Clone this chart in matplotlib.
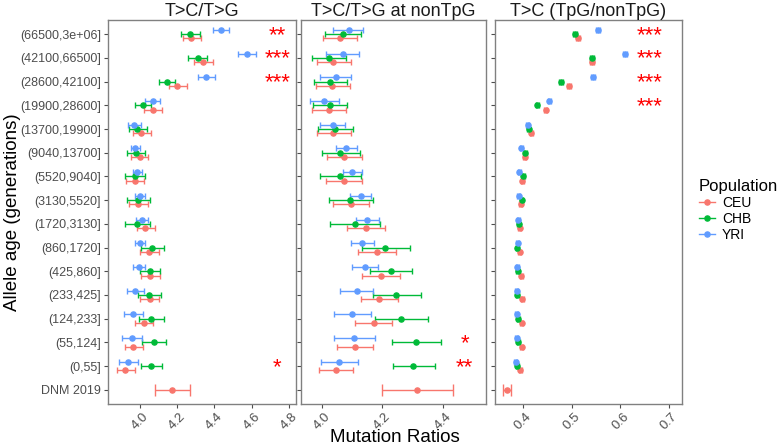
import numpy as np
import matplotlib
matplotlib.use('Agg')
import matplotlib.pyplot as plt
from matplotlib.lines import Line2D

plt.rcParams['font.family'] = ['Liberation Sans', 'DejaVu Sans']

ages = ['(66500,3e+06]', '(42100,66500]', '(28600,42100]', '(19900,28600]',
        '(13700,19900]', '(9040,13700]', '(5520,9040]', '(3130,5520]',
        '(1720,3130]', '(860,1720]', '(425,860]', '(233,425]', '(124,233]',
        '(55,124]', '(0,55]']
dnm_label = 'DNM 2019'
pops = ['CEU', 'CHB', 'YRI']
colors = {'CEU': '#F8766D', 'CHB': '#00BA38', 'YRI': '#619CFF'}
titles = ['T>C/T>G', 'T>C/T>G at nonTpG', 'T>C (TpG/nonTpG)']

# panel 1: T>C/T>G
p1_ceu = [4.276, 4.336, 4.200, 4.071, 4.007, 3.998, 3.973, 3.991, 4.030, 4.050, 4.055, 4.053, 4.020, 3.964, 3.922]
p1_ceu_lo = [4.230, 4.290, 4.156, 4.023, 3.961, 3.954, 3.927, 3.941, 3.982, 4.002, 4.007, 4.002, 3.972, 3.918, 3.876]
p1_ceu_hi = [4.330, 4.390, 4.250, 4.119, 4.057, 4.046, 4.021, 4.041, 4.082, 4.101, 4.108, 4.103, 4.069, 4.014, 3.972]
p1_chb = [4.270, 4.309, 4.148, 4.018, 3.986, 3.980, 3.973, 3.991, 3.986, 4.066, 4.053, 4.050, 4.062, 4.076, 4.062]
p1_chb_lo = [4.220, 4.260, 4.100, 3.973, 3.940, 3.929, 3.922, 3.932, 3.922, 4.004, 3.998, 3.988, 3.996, 4.012, 4.007]
p1_chb_hi = [4.320, 4.360, 4.190, 4.062, 4.036, 4.030, 4.030, 4.053, 4.053, 4.130, 4.108, 4.114, 4.130, 4.140, 4.119]
p1_yri = [4.437, 4.573, 4.356, 4.068, 3.970, 3.973, 3.984, 3.998, 4.012, 3.998, 3.995, 3.975, 3.964, 3.957, 3.938]
p1_yri_lo = [4.390, 4.524, 4.310, 4.028, 3.938, 3.950, 3.961, 3.972, 3.980, 3.973, 3.964, 3.932, 3.916, 3.906, 3.890]
p1_yri_hi = [4.480, 4.622, 4.405, 4.108, 4.005, 4.002, 4.012, 4.028, 4.044, 4.028, 4.030, 4.020, 4.018, 4.012, 3.988]
p1_dnm = [4.173, 4.080, 4.268]

# panel 2: T>C/T>G at nonTpG
p2_ceu = [4.059, 4.038, 4.035, 4.023, 4.038, 4.075, 4.073, 4.097, 4.145, 4.181, 4.196, 4.190, 4.171, 4.110, 4.047]
p2_ceu_lo = [4.004, 3.985, 3.980, 3.968, 3.984, 4.018, 4.015, 4.037, 4.085, 4.121, 4.134, 4.130, 4.110, 4.051, 3.991]
p2_ceu_hi = [4.115, 4.096, 4.092, 4.080, 4.096, 4.134, 4.132, 4.157, 4.208, 4.244, 4.258, 4.252, 4.232, 4.169, 4.104]
p2_chb = [4.070, 4.023, 4.026, 4.026, 4.044, 4.062, 4.062, 4.095, 4.109, 4.210, 4.227, 4.246, 4.262, 4.311, 4.302]
p2_chb_lo = [4.012, 3.969, 3.974, 3.972, 3.987, 4.000, 3.995, 4.024, 4.029, 4.133, 4.158, 4.169, 4.177, 4.231, 4.234]
p2_chb_hi = [4.129, 4.079, 4.082, 4.082, 4.104, 4.126, 4.130, 4.169, 4.191, 4.290, 4.298, 4.326, 4.350, 4.395, 4.372]
p2_yri = [4.089, 4.069, 4.046, 4.007, 4.036, 4.081, 4.100, 4.129, 4.151, 4.134, 4.143, 4.116, 4.101, 4.108, 4.058]
p2_yri_lo = [4.039, 4.016, 3.995, 3.962, 3.995, 4.047, 4.070, 4.095, 4.112, 4.097, 4.100, 4.061, 4.041, 4.041, 3.999]
p2_yri_hi = [4.136, 4.122, 4.098, 4.056, 4.077, 4.115, 4.133, 4.164, 4.188, 4.172, 4.187, 4.169, 4.164, 4.176, 4.121]
p2_dnm = [4.315, 4.200, 4.434]

# panel 3: T>C (TpG/nonTpG)
p3_ceu = [0.5122, 0.542, 0.4945, 0.447, 0.417, 0.404, 0.399, 0.396, 0.394, 0.3939, 0.3966, 0.3993, 0.398, 0.3973, 0.395]
p3_chb = [0.506, 0.541, 0.4776, 0.4298, 0.412, 0.4047, 0.401, 0.398, 0.392, 0.3884, 0.3898, 0.3884, 0.3905, 0.391, 0.389]
p3_yri = [0.5537, 0.610, 0.544, 0.4543, 0.410, 0.3966, 0.393, 0.392, 0.3904, 0.3898, 0.3884, 0.3877, 0.3877, 0.3877, 0.3857]
p3_err = [0.004, 0.004, 0.004, 0.003, 0.003, 0.003, 0.003, 0.003, 0.003, 0.003, 0.003, 0.003, 0.003, 0.003, 0.003]
p3_dnm = [0.367, 0.3598, 0.3755]

p3_ceu_lo = [m - e for m, e in zip(p3_ceu, p3_err)]
p3_ceu_hi = [m + e for m, e in zip(p3_ceu, p3_err)]
p3_chb_lo = [m - e for m, e in zip(p3_chb, p3_err)]
p3_chb_hi = [m + e for m, e in zip(p3_chb, p3_err)]
p3_yri_lo = [m - e for m, e in zip(p3_yri, p3_err)]
p3_yri_hi = [m + e for m, e in zip(p3_yri, p3_err)]

panels = [
    {'CEU': (p1_ceu, p1_ceu_lo, p1_ceu_hi), 'CHB': (p1_chb, p1_chb_lo, p1_chb_hi),
     'YRI': (p1_yri, p1_yri_lo, p1_yri_hi), 'DNM': p1_dnm},
    {'CEU': (p2_ceu, p2_ceu_lo, p2_ceu_hi), 'CHB': (p2_chb, p2_chb_lo, p2_chb_hi),
     'YRI': (p2_yri, p2_yri_lo, p2_yri_hi), 'DNM': p2_dnm},
    {'CEU': (p3_ceu, p3_ceu_lo, p3_ceu_hi), 'CHB': (p3_chb, p3_chb_lo, p3_chb_hi),
     'YRI': (p3_yri, p3_yri_lo, p3_yri_hi), 'DNM': p3_dnm},
]

# significance stars: (row label, text, x position)
stars = [
    [('(66500,3e+06]', '**', 4.736), ('(42100,66500]', '***', 4.736),
     ('(28600,42100]', '***', 4.736), ('(0,55]', '*', 4.736)],
    [('(55,124]', '*', 4.471), ('(0,55]', '**', 4.471)],
    [('(66500,3e+06]', '***', 0.659), ('(42100,66500]', '***', 0.659),
     ('(28600,42100]', '***', 0.659), ('(19900,28600]', '***', 0.659)],
]

xlims = [(3.829, 4.837), (3.932, 4.54), (0.342, 0.726)]
xticks = [[4.0, 4.2, 4.4, 4.6, 4.8], [4.0, 4.2, 4.4], [0.4, 0.5, 0.6, 0.7]]
xticklabels = [['4.0', '4.2', '4.4', '4.6', '4.8'], ['4.0', '4.2', '4.4'], ['0.4', '0.5', '0.6', '0.7']]

W, H = 783, 447
fig = plt.figure(figsize=(W / 100, H / 100), dpi=100)
boxes = [(108, 296), (301, 485.5), (494.5, 682)]
top, bottom = 20, 404

all_labels = ages + [dnm_label]
ypos = {lab: len(all_labels) - i for i, lab in enumerate(all_labels)}
offsets = {'CEU': -0.18, 'CHB': 0.0, 'YRI': 0.18}
frame_col = '#808080'
tick_col = '#4D4D4D'

for k, (l, r) in enumerate(boxes):
    ax = fig.add_axes([l / W, 1 - bottom / H, (r - l) / W, (bottom - top) / H])
    d = panels[k]
    for pop in pops:
        m, lo, hi = d[pop]
        ys = np.array([ypos[a] for a in ages]) + offsets[pop]
        m = np.array(m)
        xerr = [m - np.array(lo), np.array(hi) - m]
        ax.errorbar(m, ys, xerr=xerr, fmt='o', color=colors[pop], ms=3.7,
                    elinewidth=1.0, capsize=2.5, capthick=1.0, zorder=3)
    dm, dlo, dhi = d['DNM']
    ax.errorbar([dm], [ypos[dnm_label]], xerr=[[dm - dlo], [dhi - dm]], fmt='o',
                color=colors['CEU'], ms=3.7, elinewidth=1.0, capsize=4.5,
                capthick=1.0, zorder=3)
    for lab, txt, xs in stars[k]:
        ax.text(xs, ypos[lab] - 0.05, txt, color='red', fontsize=16,
                ha='center', va='center')
    ax.set_xlim(*xlims[k])
    ax.set_ylim(0.4, len(all_labels) + 0.6)
    ax.set_xticks(xticks[k])
    ax.set_xticklabels(xticklabels[k], rotation=45, ha='center', va='top')
    ax.set_yticks([ypos[a] for a in all_labels])
    if k == 0:
        ax.set_yticklabels(all_labels)
    else:
        ax.set_yticklabels([])
        ax.tick_params(axis='y', length=0)
    ax.tick_params(colors=tick_col, labelsize=9, length=3, width=0.8,
                   labelcolor=tick_col, pad=2)
    ax.tick_params(axis='x', labelsize=9.5)
    for s in ax.spines.values():
        s.set_color(frame_col)
        s.set_linewidth(1.0)
    ax.set_title(titles[k], fontsize=13, pad=2.5, color='#1A1A1A')

fig.text(395 / W, 1 - 438 / H, 'Mutation Ratios', ha='center', va='center', fontsize=13.5)
fig.text(13 / W, 1 - 212 / H, 'Allele age (generations)', ha='center', va='center',
         rotation=90, fontsize=13.5)

handles = [Line2D([0], [0], color=colors[p], marker='o', ms=3.7, lw=1.0) for p in pops]
leg = fig.legend(handles, pops, title='Population', loc='upper left',
                 bbox_to_anchor=(686 / W, 1 - 166 / H), frameon=False,
                 fontsize=10, title_fontsize=12, handlelength=1.2,
                 handletextpad=0.5, labelspacing=0.15, alignment='left')

plt.savefig('out.png', dpi=100)
